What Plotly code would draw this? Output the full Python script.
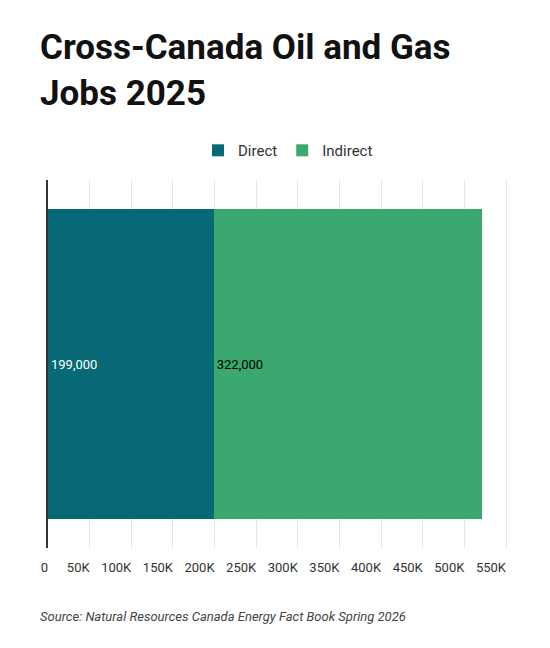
import plotly.graph_objects as go

category = ["Jobs"]
series_names = ["Direct", "Indirect"]
direct = [199000]
indirect = [322000]
labels_direct = ["199,000"]
labels_indirect = ["322,000"]
tick_vals = [0, 50000, 100000, 150000, 200000, 250000, 300000, 350000, 400000, 450000, 500000, 550000]
tick_text = ["0", "50K", "100K", "150K", "200K", "250K", "300K", "350K", "400K", "450K", "500K", "550K"]

fig = go.Figure()
fig.add_bar(y=category, x=direct, name=series_names[0], orientation="h",
            marker=dict(color="#076975", line=dict(width=0)),
            text=labels_direct, textposition="inside", insidetextanchor="start",
            textfont=dict(color="white", size=13, family="Roboto"))
fig.add_bar(y=category, x=indirect, name=series_names[1], orientation="h",
            marker=dict(color="#3aa86f", line=dict(width=0)),
            text=labels_indirect, textposition="inside", insidetextanchor="start",
            textfont=dict(color="black", size=13, family="Roboto"))

fig.update_layout(
    width=550, height=648, barmode="stack", bargap=0.16,
    margin=dict(l=40, r=30, t=172, b=108, autoexpand=False),
    paper_bgcolor="white", plot_bgcolor="white",
    font=dict(family="Roboto", color="#333"),
    legend=dict(orientation="h", x=0.5, xanchor="center", y=1.08, yanchor="middle",
                font=dict(size=15, color="#333"), traceorder="normal"),
    xaxis=dict(range=[0, 550000 * 480 / 458], tickvals=tick_vals, ticktext=tick_text,
               showgrid=True, gridcolor="#e6e6e6", zeroline=False, automargin=False,
               ticklabelposition="outside left", tickfont=dict(size=13, color="#333"),
               ticks="", ticklabelstandoff=10),
    yaxis=dict(showticklabels=False, showgrid=False, showline=True, linecolor="#333",
               linewidth=1.5, zeroline=False, automargin=False),
    annotations=[
        dict(text="<b>Cross-Canada Oil and Gas<br>Jobs 2025</b>", xref="paper", yref="paper",
             x=-0.02, xanchor="left", y=1.42, yanchor="top", align="left", showarrow=False,
             font=dict(size=35, color="#111", family="Roboto")),
        dict(text="<i>Source: Natural Resources Canada Energy Fact Book Spring 2026</i>",
             xref="paper", yref="paper", x=-0.02, xanchor="left", y=-0.187, yanchor="middle",
             showarrow=False, font=dict(size=13, color="#444"))],
)
fig.write_html("out.html")
